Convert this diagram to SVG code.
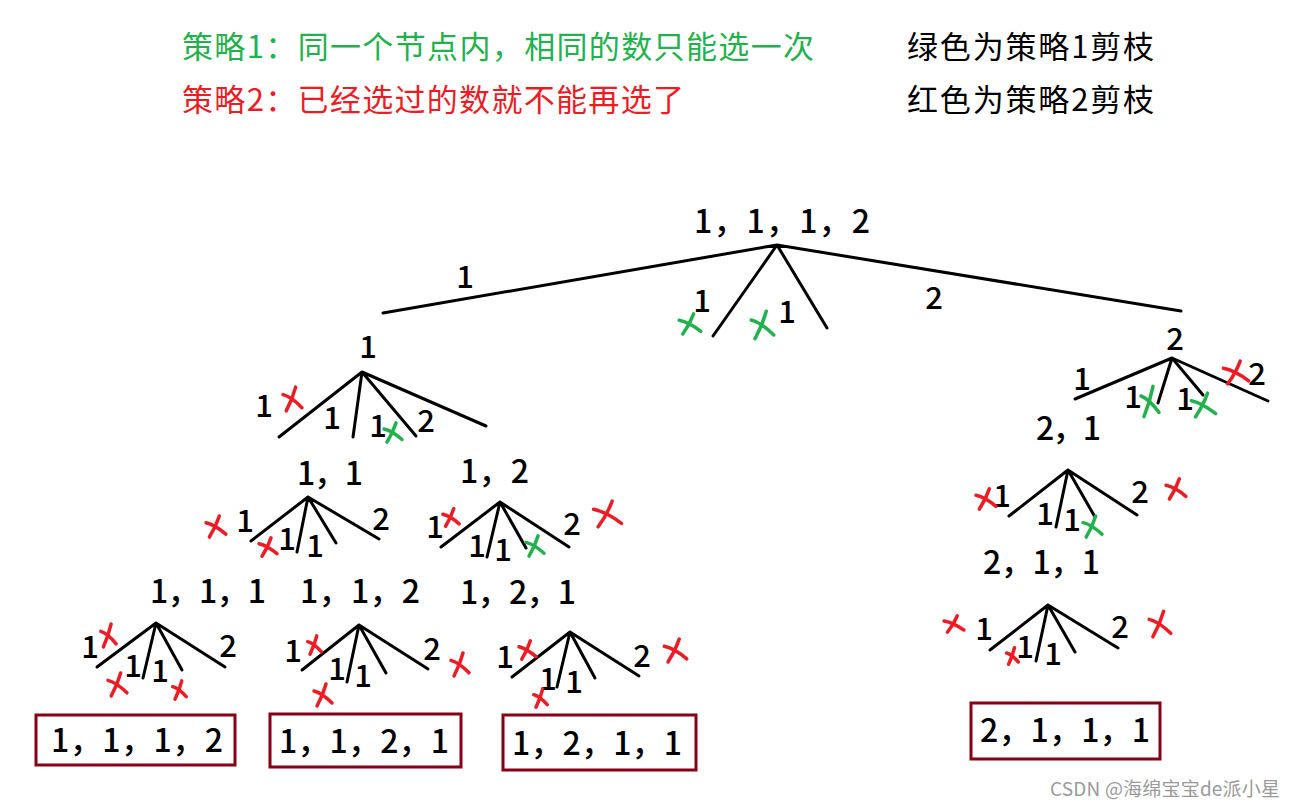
<svg xmlns="http://www.w3.org/2000/svg" width="1298" height="808" viewBox="0 0 1298 808">
<style>
text{font-family:"Noto Sans CJK SC","Noto Sans",sans-serif;font-size:32px;font-weight:500;fill:#000}
.hd{font-size:31px;font-weight:400}
.g{fill:#22b14c}.r{fill:#ed1c24}
.m{text-anchor:middle;font-size:31px}
.ln{stroke:#000;stroke-width:3;stroke-linecap:round;fill:none}
.xr{stroke:#ed1c24;fill:none}.xg{stroke:#22b14c;fill:none}
.box{fill:none;stroke:#880015;stroke-width:3}
.wm{font-size:19px;font-weight:400;fill:#9a9a9a}
</style>
<defs>
<symbol id="xm" viewBox="0 0 20 24" preserveAspectRatio="none" overflow="visible">
<path d="M13,1 Q10,12 4,23 M1,8 Q9,10 19,20" stroke-width="3.5" stroke-linecap="round" vector-effect="non-scaling-stroke"/>
</symbol>
</defs>
<rect width="1298" height="808" fill="#fff"/>
<g id="legend">
<text class="hd g" x="182" y="58" textLength="632">策略1：同一个节点内，相同的数只能选一次</text>
<text class="hd r" x="182" y="111" textLength="502">策略2：已经选过的数就不能再选了</text>
<text class="hd" x="907" y="58" textLength="247">绿色为策略1剪枝</text>
<text class="hd" x="907" y="111" textLength="247">红色为策略2剪枝</text>
</g>
<g id="connectors" class="ln">
<path d="M777,245L383,313M777,245L1181,311M777,245L713,336M777,245L827,328"/>
<path d="M362,372L279,437M362,372L353,437M362,372L416,436M362,372L486,426"/>
<path d="M308,497L251,541M308,497L297,552M308,497L336,543M308,497L379,539"/>
<path d="M500,502L441,547M500,502L487,557M500,502L526,548M500,502L569,547"/>
<path d="M156,623L97,667M156,623L143,678M156,623L182,670M156,623L225,667"/>
<path d="M359,625L302,670M359,625L347,682M359,625L386,673M359,625L428,669"/>
<path d="M570,632L512,677M570,632L557,687M570,632L595,678M570,632L639,676"/>
<path d="M1172,358L1075,399M1172,358L1158,403M1172,358L1203,395M1172,358L1268,401"/>
<path d="M1068,470L1009,516M1068,470L1056,527M1068,470L1095,517M1068,470L1137,515"/>
<path d="M1048,605L990,650M1048,605L1036,661M1048,605L1075,652M1048,605L1118,648"/>
</g>
<g id="root">
<text x="694" y="233" textLength="176">1，1，1，2</text>
<text class="m" x="465" y="288">1</text>
<text class="m" x="934" y="309">2</text>
<text class="m" x="702" y="312">1</text>
<text class="m" x="787" y="323">1</text>
<use href="#xm" class="xg" x="678" y="313" width="24" height="22"/>
<use href="#xm" class="xg" x="750" y="310" width="25" height="30"/>
</g>
<g id="n1">
<text class="m" x="368" y="358">1</text>
<text class="m" x="264" y="417">1</text>
<text class="m" x="332" y="429">1</text>
<text class="m" x="378" y="437">1</text>
<text class="m" x="426" y="432">2</text>
<use href="#xm" class="xr" x="282" y="386" width="21" height="26"/>
<use href="#xm" class="xg" x="383" y="422" width="20" height="21"/>
</g>
<g id="n2">
<text class="m" x="1175" y="350">2</text>
<text class="m" x="1082" y="390">1</text>
<text class="m" x="1133" y="408">1</text>
<text class="m" x="1185" y="410">1</text>
<text class="m" x="1257" y="385">2</text>
<use href="#xm" class="xg" x="1140" y="385" width="20" height="33"/>
<use href="#xm" class="xg" x="1190" y="392" width="27" height="26"/>
<use href="#xm" class="xr" x="1222" y="360" width="28" height="25"/>
</g>
<g id="n11">
<text x="297" y="485" textLength="66">1，1</text>
<text class="m" x="245" y="532">1</text>
<text class="m" x="287" y="550">1</text>
<text class="m" x="315" y="557">1</text>
<text class="m" x="381" y="530">2</text>
<use href="#xm" class="xr" x="205" y="515" width="22" height="23"/>
<use href="#xm" class="xr" x="258" y="537" width="20" height="20"/>
</g>
<g id="n12">
<text x="460" y="483" textLength="69">1，2</text>
<text class="m" x="435" y="538">1</text>
<text class="m" x="477" y="557">1</text>
<text class="m" x="503" y="561">1</text>
<text class="m" x="572" y="535">2</text>
<use href="#xm" class="xr" x="442" y="508" width="18" height="19"/>
<use href="#xm" class="xg" x="525" y="535" width="20" height="22"/>
<use href="#xm" class="xr" x="592" y="500" width="31" height="28"/>
</g>
<g id="n21">
<text x="1036" y="440" textLength="65">2，1</text>
<text class="m" x="1002" y="507">1</text>
<text class="m" x="1045" y="525">1</text>
<text class="m" x="1072" y="531">1</text>
<text class="m" x="1140" y="503">2</text>
<use href="#xm" class="xr" x="975" y="488" width="22" height="22"/>
<use href="#xm" class="xg" x="1082" y="515" width="21" height="23"/>
<use href="#xm" class="xr" x="1165" y="478" width="22" height="22"/>
</g>
<g id="n111">
<text x="150" y="603" textLength="116">1，1，1</text>
<text class="m" x="90" y="658">1</text>
<text class="m" x="133" y="677">1</text>
<text class="m" x="160" y="682">1</text>
<text class="m" x="228" y="657">2</text>
<use href="#xm" class="xr" x="100" y="623" width="17" height="25"/>
<use href="#xm" class="xr" x="107" y="672" width="21" height="25"/>
<use href="#xm" class="xr" x="172" y="680" width="15" height="20"/>
</g>
<g id="n112">
<text x="300" y="603" textLength="120">1，1，2</text>
<text class="m" x="293" y="662">1</text>
<text class="m" x="337" y="680">1</text>
<text class="m" x="363" y="687">1</text>
<text class="m" x="432" y="660">2</text>
<use href="#xm" class="xr" x="307" y="635" width="15" height="20"/>
<use href="#xm" class="xr" x="313" y="683" width="20" height="24"/>
<use href="#xm" class="xr" x="450" y="652" width="20" height="25"/>
</g>
<g id="n121">
<text x="460" y="604" textLength="116">1，2，1</text>
<text class="m" x="505" y="668">1</text>
<text class="m" x="548" y="690">1</text>
<text class="m" x="574" y="693">1</text>
<text class="m" x="642" y="667">2</text>
<use href="#xm" class="xr" x="518" y="640" width="19" height="20"/>
<use href="#xm" class="xr" x="533" y="688" width="15" height="20"/>
<use href="#xm" class="xr" x="663" y="638" width="25" height="25"/>
</g>
<g id="n211">
<text x="983" y="574" textLength="117">2，1，1</text>
<text class="m" x="984" y="640">1</text>
<text class="m" x="1025" y="658">1</text>
<text class="m" x="1053" y="665">1</text>
<text class="m" x="1120" y="638">2</text>
<use href="#xm" class="xr" x="943" y="615" width="22" height="18"/>
<use href="#xm" class="xr" x="1006" y="647" width="13" height="18"/>
<use href="#xm" class="xr" x="1148" y="610" width="24" height="28"/>
</g>
<g id="res1">
<rect class="box" x="36" y="715" width="199" height="50"/>
<text x="51" y="752" textLength="172">1，1，1，2</text>
</g>
<g id="res2">
<rect class="box" x="270" y="714" width="191" height="53"/>
<text x="279" y="753" textLength="170">1，1，2，1</text>
</g>
<g id="res3">
<rect class="box" x="503" y="715" width="193" height="55"/>
<text x="512" y="755" textLength="170">1，2，1，1</text>
</g>
<g id="res4">
<rect class="box" x="971" y="703" width="189" height="56"/>
<text x="980" y="742" textLength="170">2，1，1，1</text>
</g>
<text class="wm" x="1050" y="796" textLength="230">CSDN @海绵宝宝de派小星</text>
</svg>
